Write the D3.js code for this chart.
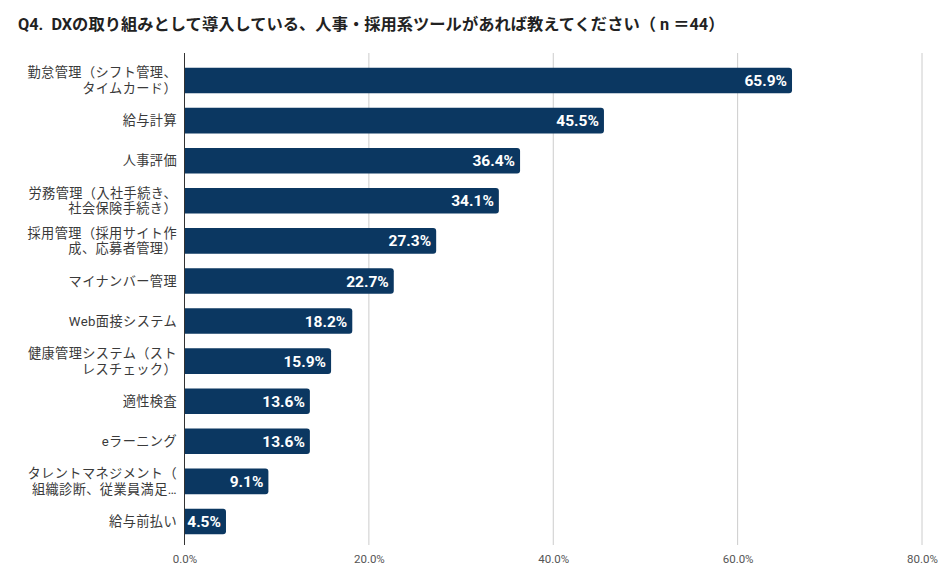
<!DOCTYPE html>
<html><head><meta charset="utf-8">
<script src="https://cdn.jsdelivr.net/npm/d3@7"></script>
<style>
body{margin:0;background:#fff;}
text{font-family:Roboto,"Noto Sans CJK JP",sans-serif;}
</style></head>
<body>
<svg id="chart" width="945" height="580"></svg>
<script>
const title = "Q4.\u00a0\u00a0DXの取り組みとして導入している、人事・採用系ツールがあれば教えてください（ n ＝44）";
const categories = [
  ["勤怠管理（シフト管理、","タイムカード）"],
  ["給与計算"],
  ["人事評価"],
  ["労務管理（入社手続き、","社会保険手続き）"],
  ["採用管理（採用サイト作","成、応募者管理）"],
  ["マイナンバー管理"],
  ["Web面接システム"],
  ["健康管理システム（スト","レスチェック）"],
  ["適性検査"],
  ["eラーニング"],
  ["タレントマネジメント（","組織診断、従業員満足…"],
  ["給与前払い"]
];
const values = [65.9, 45.5, 36.4, 34.1, 27.3, 22.7, 18.2, 15.9, 13.6, 13.6, 9.1, 4.5];
const ticks = [0, 20, 40, 60, 80];

const svg = d3.select("#chart");
const x = d3.scaleLinear().domain([0, 80]).range([184.5, 922]);
const y = d3.scaleBand().domain(d3.range(categories.length)).range([60.5, 541.5]).paddingInner(0.36).paddingOuter(0.18);
const gridTop = 53, gridBottom = 545;

svg.append("text").attr("x", 18).attr("y", 30)
  .attr("font-size", 16.3).attr("font-weight", "bold").attr("fill", "#222").text(title);

// gridlines
svg.append("g").selectAll("line").data(ticks.slice(1)).join("line")
  .attr("x1", d => x(d)).attr("x2", d => x(d))
  .attr("y1", gridTop).attr("y2", gridBottom)
  .attr("stroke", "#cccccc").attr("stroke-width", 1);

// x axis tick labels
const xAxis = d3.axisBottom(x).tickValues(ticks).tickSize(0).tickFormat(d => d.toFixed(1) + "%");
const gx = svg.append("g").attr("transform", `translate(0,${gridBottom + 7})`).call(xAxis);
gx.select(".domain").remove();
gx.selectAll("text").attr("font-size", 11.5).attr("fill", "#555").attr("font-family", "Roboto,sans-serif");

// bars with rounded right corners
const r = 3;
svg.append("g").selectAll("path").data(values).join("path")
  .attr("fill", "#0b3761")
  .attr("d", (d, i) => {
    const x0 = x(0), x1 = x(d), y0 = y(i), h = y.bandwidth();
    return `M${x0},${y0}H${x1 - r}Q${x1},${y0} ${x1},${y0 + r}V${y0 + h - r}Q${x1},${y0 + h} ${x1 - r},${y0 + h}H${x0}Z`;
  });

// axis line
svg.append("line").attr("x1", x(0)).attr("x2", x(0)).attr("y1", gridTop).attr("y2", gridBottom)
  .attr("stroke", "#333").attr("stroke-width", 1);

// value labels
svg.append("g").selectAll("text").data(values).join("text")
  .attr("x", d => x(d) - 5).attr("y", (d, i) => y(i) + y.bandwidth() / 2)
  .attr("dy", "0.36em").attr("text-anchor", "end")
  .attr("font-size", 15.5).attr("font-weight", "bold").attr("fill", "#fff")
  .text(d => d.toFixed(1) + "%");

// category labels
const cg = svg.append("g");
categories.forEach((lines, i) => {
  const cy = y(i) + y.bandwidth() / 2;
  const lh = 15.6;
  lines.forEach((ln, j) => {
    cg.append("text").attr("text-anchor", "end").attr("font-size", 13.2)
      .attr("letter-spacing", 0.4).attr("fill", "#3a3a3a")
      .attr("x", 177)
      .attr("y", cy + (j - (lines.length - 1) / 2) * lh)
      .attr("dy", "0.36em").text(ln);
  });
});
</script>
</body></html>
